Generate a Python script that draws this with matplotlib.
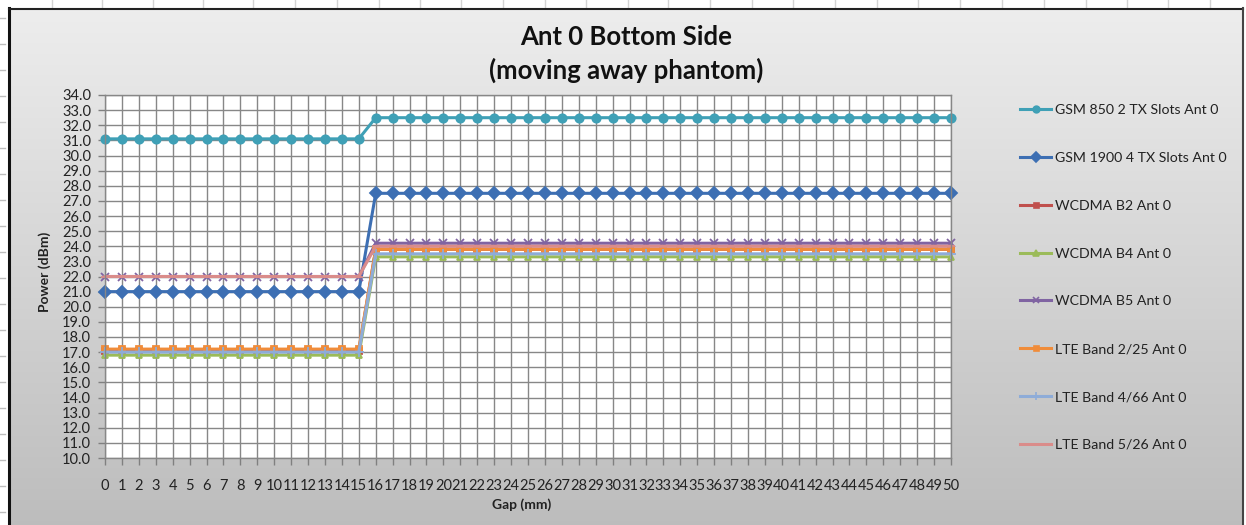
import numpy as np
import matplotlib
matplotlib.use("Agg")
import matplotlib.pyplot as plt
from matplotlib.lines import Line2D

plt.rcParams['font.family'] = ['Lato', 'DejaVu Sans']

# Gap sweep (mm) and measured power (dBm) per band
gap_mm = list(range(51))

gsm850 = [31.1] * 16 + [32.5] * 35
gsm1900 = [21.0] * 16 + [27.5] * 35
wcdma_b2 = [17.1] * 16 + [23.8] * 35
wcdma_b4 = [16.8] * 16 + [23.3] * 35
wcdma_b5 = [22.0] * 16 + [24.2] * 35
lte_b2_25 = [17.2] * 16 + [23.8] * 35
lte_b4_66 = [17.0] * 16 + [23.5] * 35
lte_b5_26 = [22.0] * 16 + [24.0] * 35

series_names = [
    "GSM 850 2 TX Slots Ant 0",
    "GSM 1900 4 TX Slots Ant 0",
    "WCDMA B2 Ant 0",
    "WCDMA B4 Ant 0",
    "WCDMA B5 Ant 0",
    "LTE Band 2/25 Ant 0",
    "LTE Band 4/66 Ant 0",
    "LTE Band 5/26 Ant 0",
]
series_values = [gsm850, gsm1900, wcdma_b2, wcdma_b4, wcdma_b5,
                 lte_b2_25, lte_b4_66, lte_b5_26]

# colour, marker, marker size
styles = [
    ("#3fa0b6", "o", 6.0),
    ("#3d6fb3", "D", 6.0),
    ("#c0504d", "s", 4.5),
    ("#9bbb59", "^", 5.0),
    ("#8064a2", "x", 6.0),
    ("#f08c3a", "s", 4.5),
    ("#8eacd8", "+", 7.0),
    ("#da8c8a", "_", 6.0),
]

W, H = 1246, 525
fig = plt.figure(figsize=(W / 100, H / 100), dpi=100)

# background: white sheet strip on top, grey gradient chart area below
bg = fig.add_axes([0, 0, 1, 1], zorder=-10)
bg.set_xlim(0, W)
bg.set_ylim(H, 0)
bg.axis("off")
grad = np.linspace(0.93, 0.74, 256)[:, None]
bg.imshow(np.dstack([grad, grad, grad]), extent=[9, 1243, H, 9],
          aspect="auto", interpolation="bicubic")
for cx in [52, 102, 153, 203, 253, 295, 337, 379, 420, 461, 503, 545, 586,
           628, 668, 710, 752, 793, 835, 877, 918, 960, 1002, 1044, 1086,
           1127, 1168, 1210]:
    bg.plot([cx, cx], [0, 8], color="#d4d4d4", lw=1)
for ry in np.arange(18, H, 26):
    bg.plot([0, 5], [ry, ry], color="#bdbdbd", lw=1)
bg.plot([9, 9], [8, H], color="#111111", lw=2.2)
bg.plot([9, 1243], [8.5, 8.5], color="#222222", lw=1.5)
bg.plot([1243, 1243], [8, H], color="#444444", lw=1.5)

ax = fig.add_axes([105 / W, 1 - 458 / H, (951 - 105) / W, (458 - 95) / H])
ax.set_facecolor("white")

for name, vals, (col, mk, ms) in zip(series_names, series_values, styles):
    ax.plot(gap_mm, vals, color=col, lw=2.2, marker=mk, markersize=ms,
            markeredgewidth=1.3, markeredgecolor=col, markerfacecolor=col,
            label=name, clip_on=False)

ax.set_xlim(0, 50)
ax.set_ylim(10, 34)
ax.set_xticks(gap_mm)
ax.set_xticklabels([str(g) for g in gap_mm], fontsize=10.5, color="#222222")
ax.set_yticks(np.arange(10, 34.5, 1.0))
ax.set_yticklabels([f"{v:.1f}" for v in np.arange(10, 34.5, 1.0)],
                   fontsize=10.5, color="#222222")
ax.tick_params(axis="both", direction="out", length=5, color="#808080",
               width=1)
ax.tick_params(axis="y", pad=5)
ax.tick_params(axis="x", pad=10)
ax.grid(True, color="#878787", lw=1)
ax.set_axisbelow(True)
for sp in ax.spines.values():
    sp.set_color("#878787")
    sp.set_linewidth(1)

fig.text(45 / W, 1 - 272 / H, "Power (dBm)", rotation=90, ha="center",
         va="center", fontsize=10, fontweight="bold", color="#222222")
fig.text(522 / W, 1 - 505 / H, "Gap (mm)", ha="center", va="center",
         fontsize=10, fontweight="bold", color="#222222")

fig.text(626 / W, 1 - 37 / H, "Ant 0 Bottom Side", ha="center", va="center",
         fontsize=18.5, fontweight="bold", color="#111111")
fig.text(626 / W, 1 - 70 / H, "(moving away phantom)", ha="center",
         va="center", fontsize=18.5, fontweight="bold", color="#111111")

handles = [Line2D([], [], color=col, lw=2.2, marker=mk, markersize=ms * 0.8,
                  markeredgewidth=1.2, markeredgecolor=col,
                  markerfacecolor=col)
           for col, mk, ms in styles]
fig.legend(handles, series_names, loc="upper left",
           bbox_to_anchor=(1020 / W, 1 - 104 / H), frameon=False,
           fontsize=10.2, handlelength=2.2, handletextpad=0.3,
           labelspacing=2.53, borderpad=0, borderaxespad=0, numpoints=1,
           labelcolor="#222222")

fig.savefig("out.png", dpi=100)
